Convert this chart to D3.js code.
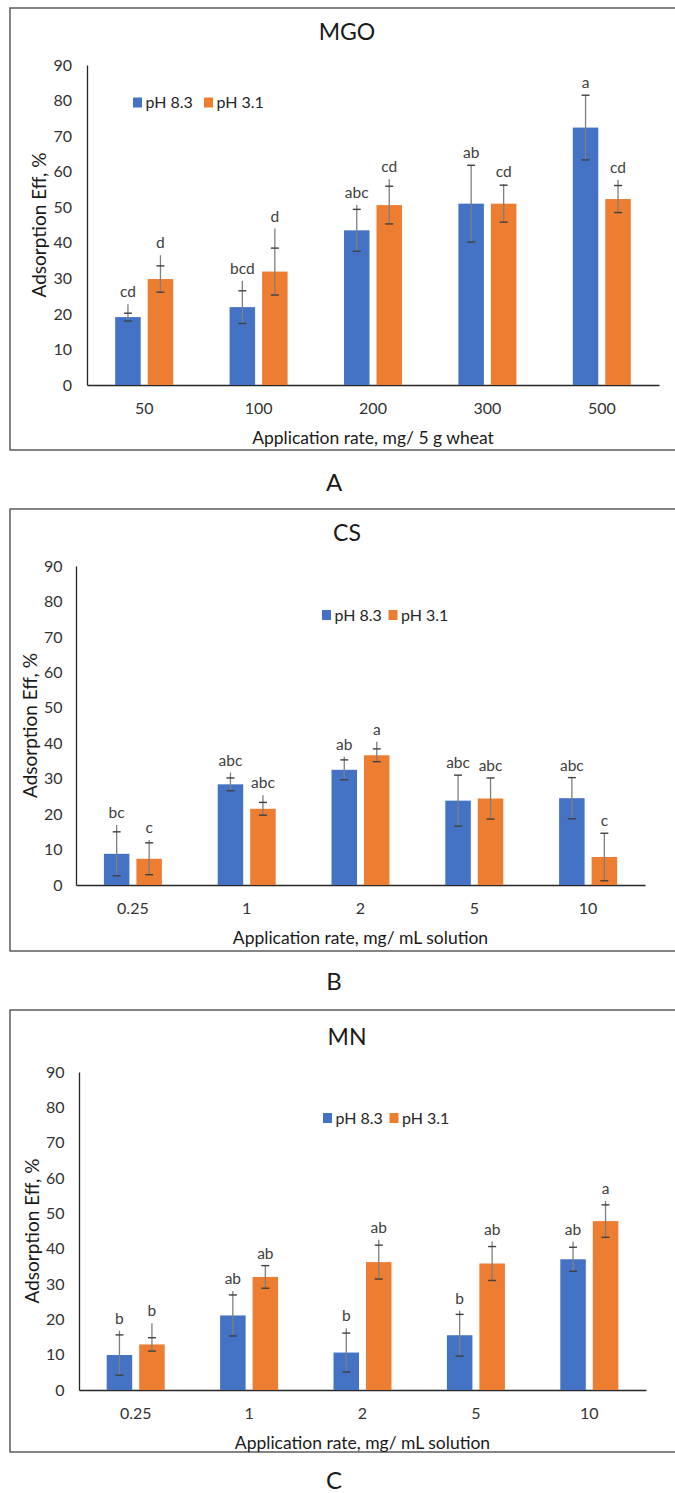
<!DOCTYPE html>
<meta charset="utf-8">
<script src="https://d3js.org/d3.v7.min.js"></script>
<style>
  body { margin: 0; background: #fff; }
</style>
<div id="chart"></div>
<script>
// series shared by all three panels
var seriesNames = ["pH 8.3", "pH 3.1"];
var seriesColors = ["#4472C4", "#ED7D31"];

// A - MGO
var mgoRates = ["50", "100", "200", "300", "500"];
var mgoHigh = [19.1, 21.9, 43.5, 51.0, 72.4];      // pH 8.3
var mgoHighSd = [1.1, 4.6, 5.9, 10.8, 9.1];
var mgoHighTop = [22.7, 29.3, 50.6, 61.8, 81.5];   // tip of the grey whisker
var mgoHighLetters = ["cd", "bcd", "abc", "ab", "a"];
var mgoLow = [29.8, 31.9, 50.6, 51.0, 52.3];       // pH 3.1
var mgoLowSd = [3.7, 6.6, 5.3, 5.2, 3.8];
var mgoLowTop = [36.5, 44.0, 57.9, 56.5, 57.7];
var mgoLowLetters = ["d", "d", "cd", "cd", "cd"];

// B - CS
var csRates = ["0.25", "1", "2", "5", "10"];
var csHigh = [8.8, 28.4, 32.5, 23.8, 24.5];
var csHighSd = [6.2, 1.8, 2.8, 7.2, 5.8];
var csHighTop = [16.9, 31.7, 36.2, 31.0, 30.3];
var csHighLetters = ["bc", "abc", "ab", "abc", "abc"];
var csLow = [7.4, 21.5, 36.6, 24.4, 7.9];
var csLowSd = [4.5, 1.8, 1.8, 5.8, 6.7];
var csLowTop = [12.7, 25.3, 40.4, 30.1, 14.6];
var csLowLetters = ["c", "abc", "a", "abc", "c"];

// C - MN
var mnRates = ["0.25", "1", "2", "5", "10"];
var mnHigh = [9.9, 21.1, 10.6, 15.5, 37.0];
var mnHighSd = [5.7, 5.8, 5.5, 5.9, 3.4];
var mnHighTop = [16.8, 28.0, 17.5, 22.4, 42.0];
var mnHighLetters = ["b", "ab", "b", "b", "ab"];
var mnLow = [12.9, 32.0, 36.2, 35.8, 47.8];
var mnLowSd = [1.9, 3.2, 4.8, 4.8, 4.6];
var mnLowTop = [18.9, 35.2, 42.5, 42.0, 53.5];
var mnLowLetters = ["b", "ab", "ab", "ab", "a"];

var yTicks = [0, 10, 20, 30, 40, 50, 60, 70, 80, 90];

var FONT = "Lato, 'Open Sans', sans-serif";

var svg = d3.select("#chart").append("svg")
    .attr("width", 675)
    .attr("height", 1493);

function makeRows(vals, sds, tops, letters) {
  return vals.map(function(v, i) {
    return {v: v, sd: sds[i], top: tops[i], letter: letters[i]};
  });
}

function drawPanel(cfg) {
  var g = svg.append("g");

  // outer chart frame (right edge runs off the page)
  g.append("rect")
      .attr("x", 10).attr("y", cfg.frameTop)
      .attr("width", 690).attr("height", cfg.frameBottom - cfg.frameTop)
      .attr("fill", "none").attr("stroke", "#505050").attr("stroke-width", 1.4);

  var x0 = d3.scaleBand().domain(cfg.cats).range([cfg.left, cfg.right]);
  var half = 29;
  var x1 = d3.scaleBand().domain(seriesNames)
      .range([x0.bandwidth() / 2 - half, x0.bandwidth() / 2 + half])
      .paddingInner(0.215);
  var y = d3.scaleLinear().domain([0, 90]).range([cfg.bottom, cfg.top]);

  // title
  g.append("text")
      .attr("x", 347).attr("y", cfg.titleY)
      .attr("text-anchor", "middle")
      .attr("font-family", FONT).attr("font-size", 23)
      .attr("fill", "#1a1a1a")
      .text(cfg.title);

  // y axis
  var ya = g.append("g")
      .attr("transform", "translate(" + cfg.left + ",0)")
      .call(d3.axisLeft(y).tickValues(yTicks).tickSize(0).tickPadding(cfg.tickPad));
  ya.select(".domain").attr("stroke", "#262626").attr("stroke-width", 1.3);
  ya.selectAll("text").attr("font-family", FONT).attr("font-size", 16).attr("fill", "#333");

  // x axis
  var xa = g.append("g")
      .attr("transform", "translate(0," + cfg.bottom + ")")
      .call(d3.axisBottom(x0).tickSize(0).tickPadding(18));
  xa.select(".domain").attr("stroke", "#262626").attr("stroke-width", 1.3);
  xa.selectAll("text").attr("font-family", FONT).attr("font-size", 16).attr("fill", "#333");

  // axis titles
  g.append("text")
      .attr("transform", "translate(" + cfg.yTitleX + "," + ((cfg.top + cfg.bottom) / 2) + ") rotate(-90)")
      .attr("text-anchor", "middle")
      .attr("font-family", FONT).attr("font-size", 19)
      .attr("fill", "#1a1a1a")
      .text("Adsorption Eff, %");

  g.append("text")
      .attr("x", (cfg.left + cfg.right) / 2).attr("y", cfg.bottom + 59)
      .attr("text-anchor", "middle")
      .attr("font-family", FONT).attr("font-size", 17.5)
      .attr("fill", "#1a1a1a")
      .text(cfg.xTitle);

  // bars, error bars and letters
  cfg.series.forEach(function(rows, si) {
    var name = seriesNames[si];
    var sg = g.append("g");
    var cx = function(d, i) { return x0(cfg.cats[i]) + x1(name) + x1.bandwidth() / 2; };

    sg.selectAll("rect.bar").data(rows).enter().append("rect")
        .attr("class", "bar")
        .attr("x", function(d, i) { return x0(cfg.cats[i]) + x1(name); })
        .attr("width", x1.bandwidth())
        .attr("y", function(d) { return y(d.v); })
        .attr("height", function(d) { return y(0) - y(d.v); })
        .attr("fill", seriesColors[si]);

    // grey whisker
    sg.selectAll("line.wh").data(rows).enter().append("line")
        .attr("class", "wh")
        .attr("x1", cx).attr("x2", cx)
        .attr("y1", function(d) { return y(d.v - d.sd); })
        .attr("y2", function(d) { return y(Math.max(d.top, d.v + d.sd)); })
        .attr("stroke", "#7f7f7f").attr("stroke-width", 1.3);

    // caps
    ["lo", "hi"].forEach(function(k) {
      sg.selectAll("line.cap" + k).data(rows).enter().append("line")
          .attr("class", "cap" + k)
          .attr("x1", function(d, i) { return cx(d, i) - 4; })
          .attr("x2", function(d, i) { return cx(d, i) + 4; })
          .attr("y1", function(d) { return y(k === "lo" ? d.v - d.sd : d.v + d.sd); })
          .attr("y2", function(d) { return y(k === "lo" ? d.v - d.sd : d.v + d.sd); })
          .attr("stroke", "#404040").attr("stroke-width", 1.4);
    });

    sg.selectAll("text.letter").data(rows).enter().append("text")
        .attr("class", "letter")
        .attr("x", cx)
        .attr("y", function(d) { return y(Math.max(d.top, d.v + d.sd)) - 7; })
        .attr("text-anchor", "middle")
        .attr("font-family", FONT).attr("font-size", 15.5)
        .attr("fill", "#404040")
        .text(function(d) { return d.letter; });
  });

  // legend
  var lg = g.append("g").attr("transform", "translate(" + cfg.legendX + "," + cfg.legendY + ")");
  seriesNames.forEach(function(name, i) {
    var off = i * cfg.legendStep;
    lg.append("rect")
        .attr("x", off).attr("y", -5)
        .attr("width", 9).attr("height", 10)
        .attr("fill", seriesColors[i]);
    lg.append("text")
        .attr("x", off + 12.5).attr("y", 5.5)
        .attr("font-family", FONT).attr("font-size", 16)
        .attr("fill", "#262626")
        .text(name);
  });

  // panel letter
  svg.append("text")
      .attr("x", 334).attr("y", cfg.letterY)
      .attr("text-anchor", "middle")
      .attr("font-family", FONT).attr("font-size", 24)
      .attr("fill", "#1a1a1a")
      .text(cfg.letter);
}

drawPanel({
  title: "MGO", letter: "A", cats: mgoRates,
  xTitle: "Application rate, mg/ 5 g wheat",
  series: [makeRows(mgoHigh, mgoHighSd, mgoHighTop, mgoHighLetters),
           makeRows(mgoLow, mgoLowSd, mgoLowTop, mgoLowLetters)],
  frameTop: 8, frameBottom: 450, titleY: 40,
  left: 87, right: 659, top: 65, bottom: 385,
  tickPad: 15, yTitleX: 46,
  legendX: 133, legendY: 102.5, legendStep: 71,
  letterY: 491
});

drawPanel({
  title: "CS", letter: "B", cats: csRates,
  xTitle: "Application rate, mg/ mL solution",
  series: [makeRows(csHigh, csHighSd, csHighTop, csHighLetters),
           makeRows(csLow, csLowSd, csLowTop, csLowLetters)],
  frameTop: 509, frameBottom: 951, titleY: 541,
  left: 76, right: 645, top: 566, bottom: 885,
  tickPad: 13.5, yTitleX: 37,
  legendX: 322, legendY: 615, legendStep: 66.5,
  letterY: 990
});

drawPanel({
  title: "MN", letter: "C", cats: mnRates,
  xTitle: "Application rate, mg/ mL solution",
  series: [makeRows(mnHigh, mnHighSd, mnHighTop, mnHighLetters),
           makeRows(mnLow, mnLowSd, mnLowTop, mnLowLetters)],
  frameTop: 1010, frameBottom: 1452, titleY: 1045,
  left: 79, right: 646, top: 1072, bottom: 1390,
  tickPad: 14.5, yTitleX: 39,
  legendX: 323, legendY: 1118, legendStep: 66.5,
  letterY: 1489
});
</script>
